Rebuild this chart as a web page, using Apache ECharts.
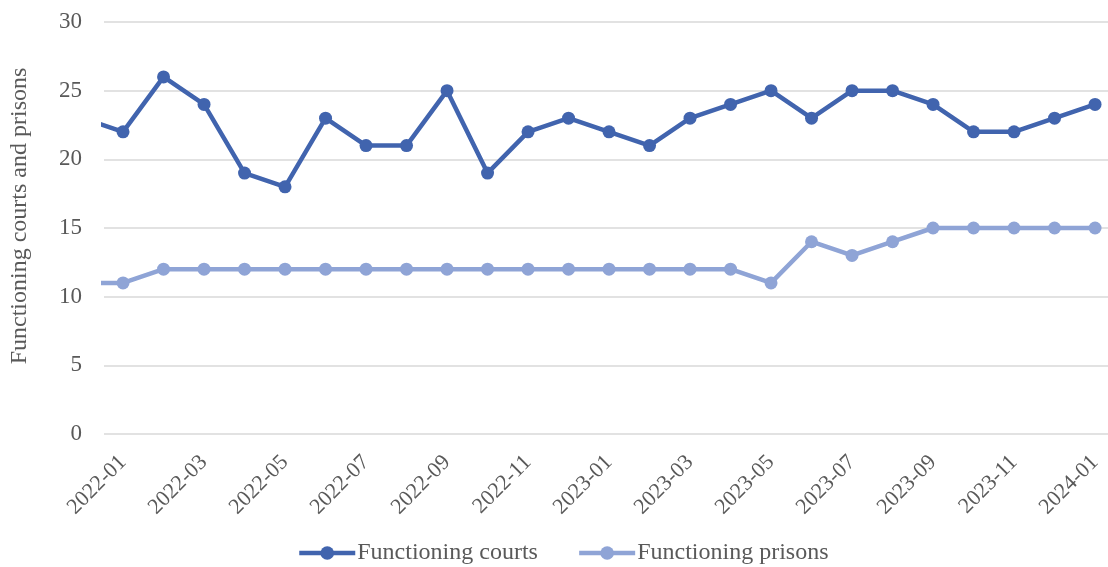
<!DOCTYPE html>
<html>
<head>
<meta charset="utf-8">
<script src="https://cdn.jsdelivr.net/npm/echarts@6/dist/echarts.min.js"></script>
<style>
  html, body { margin: 0; padding: 0; background: #ffffff; }
  #chart { width: 1108px; height: 567px; }
</style>
</head>
<body>
<div id="chart"></div>
<script>
// Monthly counts; the first month sits just left of the visible window.
const months = [
  '2021-12', '2022-01', '2022-02', '2022-03', '2022-04', '2022-05', '2022-06',
  '2022-07', '2022-08', '2022-09', '2022-10', '2022-11', '2022-12',
  '2023-01', '2023-02', '2023-03', '2023-04', '2023-05', '2023-06',
  '2023-07', '2023-08', '2023-09', '2023-10', '2023-11', '2023-12', '2024-01'
];
const courts = [23, 22, 26, 24, 19, 18, 23, 21, 21, 25, 19, 22, 23,
                22, 21, 23, 24, 25, 23, 25, 25, 24, 22, 22, 23, 24];
const prisons = [11, 11, 12, 12, 12, 12, 12, 12, 12, 12, 12, 12, 12,
                 12, 12, 12, 12, 11, 14, 13, 14, 15, 15, 15, 15, 15];
const labelMonths = ['2022-01', '2022-03', '2022-05', '2022-07', '2022-09', '2022-11',
                     '2023-01', '2023-03', '2023-05', '2023-07', '2023-09', '2023-11', '2024-01'];
const yTicks = [0, 5, 10, 15, 20, 25, 30];
const yTitle = 'Functioning courts and prisons';

const FONT = '"Liberation Serif", "Times New Roman", serif';
const TEXT = '#595959';
const COURTS_COLOR = '#4164ae';
const PRISONS_COLOR = '#8fa4d6';

const pairs = arr => arr.map((v, i) => [i, v]);

const chart = echarts.init(document.getElementById('chart'), null, { renderer: 'canvas' });
chart.setOption({
  animation: false,
  backgroundColor: '#ffffff',
  grid: { left: 104, right: 0, top: 22, bottom: 133, containLabel: false, outerBoundsMode: 'none' },
  xAxis: {
    type: 'value',
    min: 0.53,
    max: 25.32,
    axisLine: { show: false },
    axisTick: { show: false },
    splitLine: { show: false },
    axisLabel: {
      customValues: labelMonths.map(m => months.indexOf(m)),
      formatter: v => months[Math.round(v)],
      rotate: 45,
      margin: 25,
      fontFamily: FONT,
      fontSize: 22,
      color: TEXT
    }
  },
  yAxis: {
    type: 'value',
    min: yTicks[0],
    max: yTicks[yTicks.length - 1],
    interval: 5,
    axisLine: { show: false },
    axisTick: { show: false },
    axisLabel: { fontFamily: FONT, fontSize: 23, color: TEXT, margin: 22 },
    splitLine: { lineStyle: { color: '#d9d9d9', width: 1.5 } }
  },
  graphic: [{
    type: 'text',
    x: 20,
    y: 216,
    rotation: Math.PI / 2,
    style: {
      text: yTitle,
      font: '24px ' + FONT,
      fill: TEXT,
      align: 'center',
      verticalAlign: 'middle'
    }
  }],
  legend: {
    bottom: -3,
    left: 292,
    itemWidth: 56,
    itemHeight: 17,
    itemGap: 39,
    lineStyle: { width: 4.5 },
    textStyle: { fontFamily: FONT, fontSize: 24, color: TEXT, padding: [0, 0, 0, -3] },
    data: ['Functioning courts', 'Functioning prisons']
  },
  series: [
    {
      name: 'Functioning courts',
      type: 'line',
      data: pairs(courts),
      symbol: 'circle',
      symbolSize: 13,
      color: COURTS_COLOR,
      lineStyle: { width: 4.5, color: COURTS_COLOR },
      itemStyle: { color: COURTS_COLOR }
    },
    {
      name: 'Functioning prisons',
      type: 'line',
      data: pairs(prisons),
      symbol: 'circle',
      symbolSize: 13,
      color: PRISONS_COLOR,
      lineStyle: { width: 4.5, color: PRISONS_COLOR },
      itemStyle: { color: PRISONS_COLOR }
    }
  ]
});
</script>
</body>
</html>
